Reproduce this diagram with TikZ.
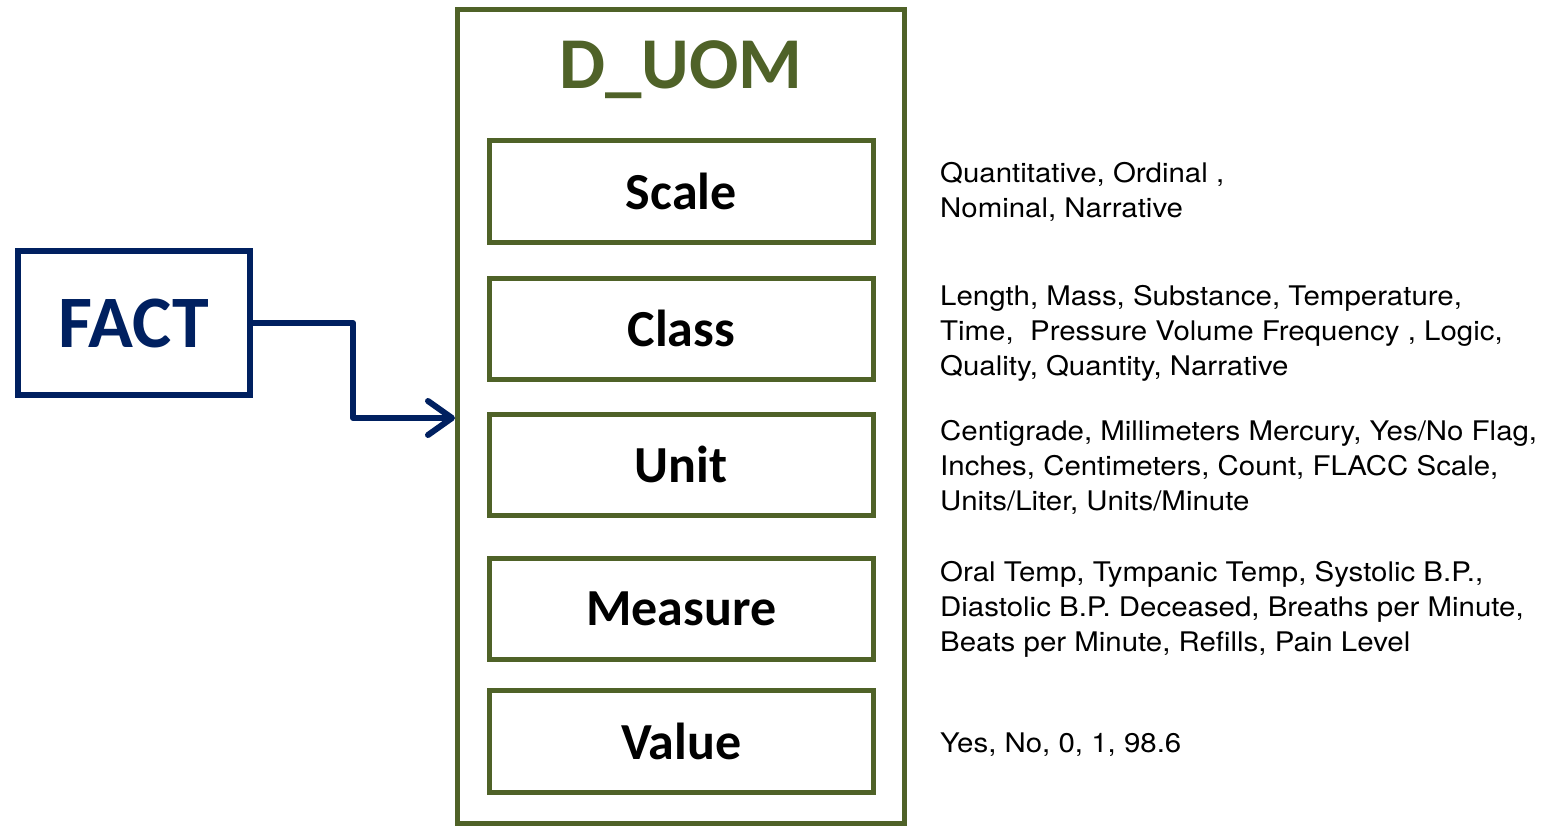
\documentclass[tikz,border=0pt]{standalone}
\usepackage{fontspec}
\setmainfont{Liberation Sans}
\newfontfamily\arialf[FakeStretch=1.09]{TeX Gyre Heros}
\newfontfamily\calib{Carlito}
\usetikzlibrary{arrows.meta}
\definecolor{olivegr}{RGB}{79,98,40}
\definecolor{navyb}{RGB}{0,32,96}
\tikzset{
  fieldbox/.style={draw=olivegr, line width=5pt, minimum width=383.5pt, minimum height=101.5pt, inner sep=0pt, outer sep=0pt, font=\calib\bfseries\fontsize{52}{54}\selectfont},
  notetext/.style={anchor=west, align=left, inner sep=0pt, font=\arialf\fontsize{27}{35}\selectfont},
  factbox/.style={draw=navyb, line width=6pt, minimum width=231.5pt, minimum height=144pt, inner sep=0pt, outer sep=0pt, text=navyb, font=\calib\bfseries\fontsize{74}{76}\selectfont},
  outerbox/.style={draw=olivegr, line width=5pt, minimum width=447pt, minimum height=813.5pt, inner sep=0pt, outer sep=0pt},
  conn/.style={draw=navyb, line width=6pt, line join=round, -{Straight Barb[length=24pt,width=34pt,line cap=round,round]}}
}
\begin{document}
\begin{tikzpicture}[x=1pt,y=-1pt]
\useasboundingbox (0,0) rectangle (1553,825);
\node[outerbox] (duom) at (681,416.25) {};
\node[anchor=base, text=olivegr, font=\calib\bfseries\fontsize{73}{75}\selectfont, inner sep=0pt] (title) at (681,88) {D\_UOM};
\node[fieldbox] (scale) at (681.25,191.25) {Scale};
\node[fieldbox] (class) at (681.25,328.75) {Class};
\node[fieldbox] (unit) at (681.25,464.75) {Unit};
\node[fieldbox] (measure) at (681.25,609) {Measure};
\node[fieldbox] (value) at (681.25,741.5) {Value};
\node[factbox] (fact) at (133.75,323) {FACT};
\coordinate (bend1) at (353,323);
\coordinate (bend2) at (353,418);
\coordinate (tip) at (455,418);
\draw[conn] (fact.east) -- (bend1) -- (bend2) -- (tip);
\node[notetext] (nscale) at (940,192) {Quantitative, Ordinal ,\\Nominal, Narrative};
\node[notetext] (nclass) at (940,333) {Length, Mass, Substance, Temperature,\\Time,\ \ Pressure Volume Frequency , Logic,\\Quality, Quantity, Narrative};
\node[notetext] (nunit) at (940,467) {Centigrade, Millimeters Mercury, Yes/No Flag,\\Inches, Centimeters, Count, FLACC Scale,\\Units/Liter, Units/Minute};
\node[notetext] (nmeasure) at (940,609) {Oral Temp, Tympanic Temp, Systolic B.P.,\\Diastolic B.P. Deceased, Breaths per Minute,\\Beats per Minute, Refills, Pain Level};
\node[notetext] (nvalue) at (940,745) {Yes, No, 0, 1, 98.6};
\end{tikzpicture}
\end{document}
